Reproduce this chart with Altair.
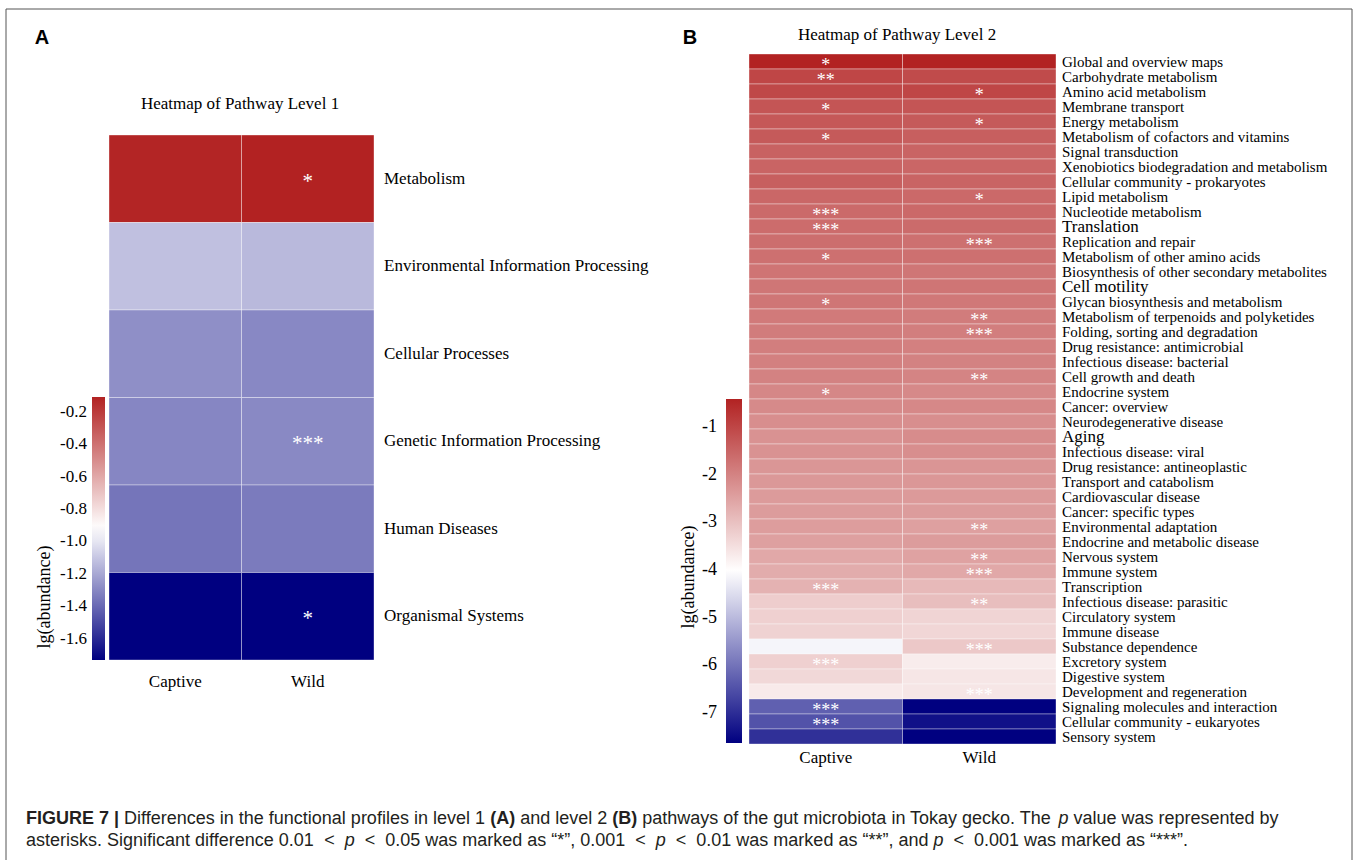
import altair as alt
import pandas as pd

# ---------------- data ----------------
groups = ["Captive", "Wild"]

l1_pathways = ["Metabolism", "Environmental Information Processing", "Cellular Processes",
               "Genetic Information Processing", "Human Diseases", "Organismal Systems"]
l1_captive = [-0.12, -1.12, -1.276, -1.305, -1.358, -1.73]
l1_wild = [-0.11, -1.143, -1.298, -1.295, -1.339, -1.73]
l1_stars_captive = ["", "", "", "", "", ""]
l1_stars_wild = ["*", "", "", "***", "", "*"]
l1_ticks = [-0.2, -0.4, -0.6, -0.8, -1.0, -1.2, -1.4, -1.6]

l2_pathways = [
    "Global and overview maps", "Carbohydrate metabolism", "Amino acid metabolism",
    "Membrane transport", "Energy metabolism", "Metabolism of cofactors and vitamins",
    "Signal transduction", "Xenobiotics biodegradation and metabolism",
    "Cellular community - prokaryotes", "Lipid metabolism", "Nucleotide metabolism",
    "Translation", "Replication and repair", "Metabolism of other amino acids",
    "Biosynthesis of other secondary metabolites", "Cell motility",
    "Glycan biosynthesis and metabolism", "Metabolism of terpenoids and polyketides",
    "Folding, sorting and degradation", "Drug resistance: antimicrobial",
    "Infectious disease: bacterial", "Cell growth and death", "Endocrine system",
    "Cancer: overview", "Neurodegenerative disease", "Aging", "Infectious disease: viral",
    "Drug resistance: antineoplastic", "Transport and catabolism", "Cardiovascular disease",
    "Cancer: specific types", "Environmental adaptation", "Endocrine and metabolic disease",
    "Nervous system", "Immune system", "Transcription", "Infectious disease: parasitic",
    "Circulatory system", "Immune disease", "Substance dependence", "Excretory system",
    "Digestive system", "Development and regeneration", "Signaling molecules and interaction",
    "Cellular community - eukaryotes", "Sensory system"]
l2_captive = [-0.41, -1.00, -1.03, -1.24, -1.29, -1.32, -1.46, -1.49, -1.41, -1.54,
              -1.59, -1.62, -1.65, -1.68, -1.75, -1.78, -1.78, -1.85, -1.88, -1.91,
              -1.94, -1.98, -2.06, -2.11, -2.17, -2.24, -2.24, -2.30, -2.34, -2.39,
              -2.40, -2.42, -2.47, -2.60, -2.66, -2.76, -3.20, -3.25, -3.28, -4.16,
              -3.25, -3.38, -3.68, -6.27, -6.47, -6.95]
l2_wild = [-0.41, -1.08, -1.00, -1.24, -1.32, -1.41, -1.49, -1.52, -1.49, -1.57,
           -1.57, -1.60, -1.68, -1.68, -1.78, -1.76, -1.81, -1.88, -1.91, -1.94,
           -1.98, -2.01, -2.09, -2.08, -2.17, -2.14, -2.17, -2.29, -2.32, -2.37,
           -2.40, -2.47, -2.40, -2.50, -2.60, -2.88, -2.96, -3.32, -3.35, -3.12,
           -3.71, -3.61, -3.61, -7.63, -7.40, -7.63]
l2_stars_captive = ["*", "**", "", "*", "", "*", "", "", "", "",
                    "***", "***", "", "*", "", "", "*", "", "", "",
                    "", "", "*", "", "", "", "", "", "", "",
                    "", "", "", "", "", "***", "", "", "", "",
                    "***", "", "", "***", "***", ""]
l2_stars_wild = ["", "", "*", "", "*", "", "", "", "", "*",
                 "", "", "***", "", "", "", "", "**", "***", "",
                 "", "**", "", "", "", "", "", "", "", "",
                 "", "**", "", "**", "***", "", "**", "", "", "***",
                 "", "", "***", "", "", ""]
l2_ticks = [-1, -2, -3, -4, -5, -6, -7]

caption_line1 = [("FIGURE 7 |", "bold"),
                 (" Differences in the functional profiles in level 1 ", "normal"),
                 ("(A)", "bold"), (" and level 2 ", "normal"), ("(B)", "bold"),
                 (" pathways of the gut microbiota in Tokay gecko. The ", "normal"),
                 ("p", "italic"), (" value was represented by", "normal")]
caption_line2 = [("asterisks. Significant difference 0.01 ", "normal"), ("<", "rel"),
                 (" p ", "italic"), ("<", "rel"),
                 (" 0.05 was marked as \u201c*\u201d, 0.001 ", "normal"), ("<", "rel"),
                 (" p ", "italic"), ("<", "rel"),
                 (" 0.01 was marked as \u201c**\u201d, and ", "normal"), ("p ", "italic"),
                 ("<", "rel"), (" 0.001 was marked as \u201c***\u201d.", "normal")]


def long_table(paths, cap, wild, s_cap, s_wild):
    rows = []
    for p, c, w, a, b in zip(paths, cap, wild, s_cap, s_wild):
        rows.append({"pathway": p, "group": groups[0], "value": c, "sig": a})
        rows.append({"pathway": p, "group": groups[1], "value": w, "sig": b})
    return pd.DataFrame(rows)


dfA = long_table(l1_pathways, l1_captive, l1_wild, l1_stars_captive, l1_stars_wild)
dfB = long_table(l2_pathways, l2_captive, l2_wild, l2_stars_captive, l2_stars_wild)

SERIF = "Liberation Serif"
SANS = "Liberation Sans"
LOW, MID, HIGH = "#000080", "#ffffff", "#b22222"


def panel(df, paths, xr, yr, dom, leg, star_size, star_dy, lab_x, lab_size,
          col_y, col_size, big_labels=None):
    x = alt.X("group:N", sort=groups, axis=None,
              scale=alt.Scale(range=xr, paddingInner=0, paddingOuter=0))
    y = alt.Y("pathway:N", sort=paths, axis=None,
              scale=alt.Scale(range=yr, paddingInner=0, paddingOuter=0))
    color = alt.Color("value:Q", title=None,
                      scale=alt.Scale(domain=dom, range=[LOW, MID, HIGH], interpolate="rgb"),
                      legend=alt.Legend(orient="none", legendX=leg[0], legendY=leg[1],
                                        direction="vertical", gradientLength=leg[2],
                                        gradientThickness=leg[3], gradientStrokeWidth=0,
                                        labelOpacity=0))
    rect = alt.Chart(df).mark_rect(stroke="white", strokeWidth=0.8, strokeOpacity=0.45).encode(
        x=x, y=y, color=color)
    stars = alt.Chart(df).mark_text(font=SERIF, fontSize=star_size, color="white",
                                    baseline="middle", dy=star_dy).encode(
        x=x, y=y, text="sig:N")
    lab_df = pd.DataFrame({"pathway": paths})
    if big_labels:
        test = "indexof(%s, datum.pathway) >= 0" % ("[" + ",".join("'%s'" % b for b in big_labels) + "]")
        size = alt.condition(test, alt.value(lab_size + 2), alt.value(lab_size))
    else:
        size = alt.value(lab_size)
    rowlab = alt.Chart(lab_df).mark_text(font=SERIF, align="left", baseline="middle",
                                         color="black").encode(
        x=alt.value(lab_x), y=y, text="pathway:N", size=size)
    collab = alt.Chart(pd.DataFrame({"group": groups})).mark_text(
        font=SERIF, fontSize=col_size, baseline="middle", color="black").encode(
        x=x, y=alt.value(col_y), text="group:N")
    return alt.layer(rect, stars, rowlab, collab)


def tick_labels(ticks, fmt, dom, y0, length, x_right, size):
    df = pd.DataFrame({"tick": ticks,
                       "label": [("-" if t < 0 else "") + format(abs(t), fmt) for t in ticks]})
    return alt.Chart(df).mark_text(font=SERIF, fontSize=size, align="right", baseline="middle",
                                   color="black").encode(
        x=alt.value(x_right),
        y=alt.Y("tick:Q", axis=None, scale=alt.Scale(domain=[dom[0], dom[-1]],
                                                     range=[y0 + length, y0], zero=False, nice=False)),
        text="label:N")


domA = [-1.73, -0.92, -0.11]
domB = [-7.63, -4.02, -0.41]
panelA = panel(dfA, l1_pathways, [109, 374], [135, 660], domA,
               (92, 397, 263, 13), 21, 3, 384, 17, 682, 17)
panelB = panel(dfB, l2_pathways, [749, 1056], [54, 744], domB,
               (726, 399, 344, 16), 18, 4, 1062, 15, 758, 17,
               big_labels=["Translation", "Cell motility", "Aging"])
ticksA = tick_labels(l1_ticks, ".1f", domA, 397, 263, 87, 17)
ticksB = tick_labels(l2_ticks, ".0f", domB, 399, 344, 717, 18)


def note(text, x, y, **kw):
    return alt.Chart(pd.DataFrame({"t": [text]})).mark_text(**kw).encode(
        text="t:N", x=alt.value(x), y=alt.value(y))


frame = alt.Chart(pd.DataFrame({"t": ["frame"]})).mark_rect(
    fillOpacity=0, stroke="#555555", strokeWidth=1).encode(
    x=alt.value(6), x2=alt.value(1352), y=alt.value(9), y2=alt.value(900))

annotations = [
    note("A", 42, 38, font=SANS, fontSize=20, fontWeight="bold", color="black"),
    note("B", 690, 38, font=SANS, fontSize=20, fontWeight="bold", color="black"),
    note("Heatmap of Pathway Level 1", 240, 104, font=SERIF, fontSize=17, color="black"),
    note("Heatmap of Pathway Level 2", 897, 35, font=SERIF, fontSize=17, color="black"),
    note("lg(abundance)", 45, 597, font=SERIF, fontSize=18, angle=270, color="black"),
    note("lg(abundance)", 689, 577, font=SERIF, fontSize=18, angle=270, color="black"),
]

# caption: pieces laid out with Arial/Liberation Sans advance widths
W = {" ": 278, "(": 333, ")": 333, "*": 389, ",": 278, ".": 278, "<": 584, "|": 260,
     ":": 278, "\u201c": 333, "\u201d": 333, "-": 333,
     "A": 667, "B": 667, "D": 722, "E": 667, "F": 611, "G": 778, "I": 278, "R": 722,
     "S": 667, "T": 611, "U": 722,
     "a": 556, "b": 556, "c": 500, "d": 556, "e": 556, "f": 278, "g": 556, "h": 556,
     "i": 222, "k": 500, "l": 222, "m": 833, "n": 556, "o": 556, "p": 556, "r": 333,
     "s": 500, "t": 278, "u": 556, "v": 500, "w": 722, "y": 500}
WB = {"A": 722, "B": 722, "|": 280, "(": 333, ")": 333}
CAP_SIZE = 18.0
REL_PAD = 5.0


def width(s, style):
    tot = 0
    for ch in s:
        if style == "bold":
            tot += WB.get(ch, W.get(ch, 556))
        elif ch.isdigit():
            tot += 556
        else:
            tot += W.get(ch, 556)
    w = tot / 1000.0 * CAP_SIZE
    if style == "rel":
        w += 2 * REL_PAD
    return w


caption = []
for line, ypos in ((caption_line1, 819), (caption_line2, 841)):
    xpos = 26.0
    for txt, style in line:
        lead = len(txt) - len(txt.lstrip(" "))
        kw = dict(font=SANS, fontSize=CAP_SIZE, align="left", baseline="middle", color="#231f20")
        if style == "bold":
            kw["fontWeight"] = "bold"
        if style == "italic":
            kw["fontStyle"] = "italic"
        shift = width(" " * lead, "normal") + (REL_PAD if style == "rel" else 0)
        caption.append(note(txt.strip(" "), xpos + shift, ypos, **kw))
        xpos += width(txt, style)

chart = alt.layer(frame, *annotations, panelA, panelB, ticksA, ticksB, *caption).resolve_scale(
    x="independent", y="independent", color="independent", size="independent"
).properties(
    width=1360, height=860, padding=0, autosize=alt.AutoSizeParams(type="none")
).configure_view(stroke=None)

chart.save("out.html", embed_options={"renderer": "svg", "actions": False})
